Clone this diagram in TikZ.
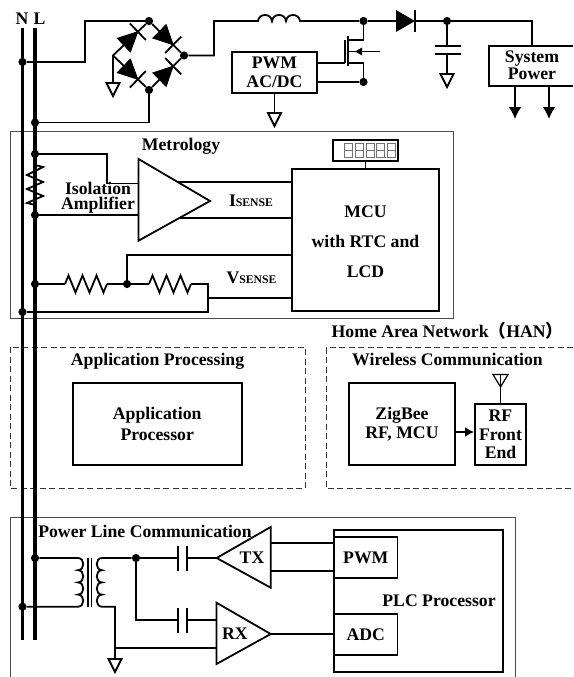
\documentclass[tikz,border=0pt]{standalone}
\usepackage{fontspec}
\setmainfont{Liberation Serif}
\newfontfamily\cjkfont{Noto Sans CJK SC}
\usetikzlibrary{arrows.meta,calc}
\newcommand{\gndtri}[1]{\draw[wire,fill=white,line join=miter] (#1) ++(-6.5,0) -- ++(13,0) -- ++(-6.5,13) -- cycle;}
\newcommand{\bridgediode}[2]{%
  \coordinate (dba) at ($(#1)!.30!(#2)$);
  \coordinate (dtip) at ($(#1)!.69!(#2)$);
  \draw[wire] (#1) -- (#2);
  \filldraw[line width=.8pt,line join=miter] ($(dba)!9.5pt!90:(dtip)$) -- ($(dba)!9.5pt!-90:(dtip)$) -- (dtip) -- cycle;
  \draw[wire] ($(dtip)!11.5pt!90:(dba)$) -- ($(dtip)!11.5pt!-90:(dba)$);
}
\newcommand{\zigh}[1]{\draw[wire,line join=miter] (#1) -- ++(3.5,-8.5) -- ++(7,17) -- ++(7,-17) -- ++(7,17) -- ++(7,-17) -- ++(7,17) -- ++(3.5,-8.5);}
\newcommand{\bftext}{\bfseries\fontsize{17.7}{19.5}\selectfont}
\newcommand{\sensetxt}[1]{#1{\fontsize{11.7}{12}\selectfont SENSE}}
\tikzset{
  x=1pt,y=-1pt,
  wire/.style={line width=1.8pt},
  power/.style={line width=3.6pt},
  outerbox/.style={line width=.9pt,draw=black!70},
  dashbox/.style={line width=1pt,draw=black!80,dash pattern=on 6pt off 3.5pt},
  box/.style={draw=black,line width=1.8pt,inner sep=0pt,align=center,font=\bftext},
  txt/.style={anchor=base,inner sep=0pt,font=\bftext},
  dot/.style={circle,fill=black,inner sep=0pt,minimum size=8.2pt},
  seg/.style={line width=.6pt,draw=black!55},
}
\begin{document}
\begin{tikzpicture}
\useasboundingbox (0,0) rectangle (573,677);
% -------- outer frames
\draw[outerbox] (10,131) rectangle (453,318);
\draw[dashbox] (10,347) rectangle (305,488.5);
\draw[dashbox] (573,347.5) -- (326,347.5) -- (326,488.5) -- (573,488.5);
\draw[outerbox] (10,677) -- (10,517) -- (515,517) -- (515,677);
% -------- named points
\node[dot] (dN1) at (22.5,62) {};
\node[dot] (dL1) at (35,122.5) {};
\node[dot] (brT) at (149,21) {};
\node[dot] (brR) at (184,55.5) {};
\node[dot] (brB) at (149,90) {};
\coordinate (brL) at (113,55.5);
\node[dot] (dSw) at (363.5,21) {};
\node[dot] (dCap) at (447,21) {};
\node[dot] (dSrc) at (363.5,82) {};
\node[dot] (dL2) at (35,154) {};
\node[dot] (dL3) at (35,215) {};
\node[dot] (dL4) at (35,284) {};
\node[dot] (dN2) at (22.5,312) {};
\node[dot] (dMid) at (127,284) {};
\node[dot] (dL5) at (35,558) {};
\node[dot] (dN3) at (22.5,606.7) {};
\node[dot] (dSec) at (136,558) {};
% -------- boxes
\node[box,minimum width=85pt,minimum height=41pt] (pwmac) at (274.5,72.5) {PWM\\[-1pt]AC/DC};
\node[box,minimum width=147pt,minimum height=142pt] (mcu) at (365.5,240) {\rule{0pt}{16pt}MCU\\[10.5pt]with RTC and\\[10.5pt]LCD};
\node[box,minimum width=65pt,minimum height=20.5pt] (lcd) at (365.5,150.5) {};
\node[box,minimum width=169pt,minimum height=82pt] (app) at (157.2,424) {Application\\[1.5pt]Processor};
\node[box,minimum width=106pt,minimum height=82pt] (zig) at (402,424) {ZigBee\\RF, MCU};
\node[box,minimum width=51pt,minimum height=61pt] (rf) at (500.5,434.5) {RF\\[-1pt]Front\\[-1pt]End};
\node[box,minimum width=168.5pt,minimum height=142pt] (plc) at (418.5,601) {};
\node[box,fill=white,minimum width=63.5pt,minimum height=41pt] (pwmtx) at (365.8,557.5) {PWM};
\node[box,fill=white,minimum width=63.5pt,minimum height=41pt] (adc) at (365.8,634.5) {ADC};
% system power: box runs off the right edge of the picture
\draw[wire] (573,45.7) -- (489.3,45.7) -- (489.3,86) -- (573,86);
\coordinate (sysT) at (532,45.7);
\coordinate (sysA) at (515,86);
\coordinate (sysB) at (549,86);
\node[txt,align=center,anchor=center,font=\bfseries\fontsize{17.7}{17}\selectfont] (systxt) at (532,65) {System\\Power};
% -------- rectifier input and bridge
\draw[wire] (dN1) -- (85,62) -- (85,21) -- (brT);
\draw[wire] (dL1) -- (149,122.5) -- (brB);
\bridgediode{brL}{brT}
\bridgediode{brT}{brR}
\bridgediode{brL}{brB}
\bridgediode{brB}{brR}
\draw[wire] (brL) -- (113,83);
\gndtri{113,83}
% -------- boost stage
\draw[wire] (brR) -- (214,55.5) -- (214,21) -- (258,21)
  .. controls +(1,-8) and +(-1,-8) .. ++(14,0)
  .. controls +(1,-8) and +(-1,-8) .. ++(14,0)
  .. controls +(1,-8) and +(-1,-8) .. ++(14,0) -- (dSw);
\coordinate (dioA) at (396,21);
\coordinate (dioK) at (415,21);
\draw[wire] (dSw) -- (dioA);
\fill (dioA) ++(0,-11) -- ++(19,11) -- ++(-19,11) -- cycle;
\draw[wire] (415,10) -- (415,32);
\draw[wire] (dioK) -- (dCap);
\draw[wire] (dCap) -- (532,21) -- (sysT);
% mosfet
\draw[wire] (dSw) -- (363.5,40) -- (348,40);
\draw[line width=2pt] (348,36) -- (348,66);
\draw[wire] (345,40) -- (345,63);
\draw[wire] (pwmac.east |- 0,63) -- (345,63);
\draw[wire] (348,63) -- (363.5,63) -- (dSrc);
\draw[wire] (pwmac.east |- dSrc) -- (dSrc);
\draw[wire] (348,51.5) -- (380,51.5);
\fill (355,51.5) -- (362,47.5) -- (362,55.5) -- cycle;
% pwm ground
\draw[wire] (pwmac.south) -- (274.5,113);
\gndtri{274.5,113}
% capacitor
\draw[wire] (dCap) -- (447,46);
\draw[wire] (435,46) -- (461,46);
\draw[wire] (435,54) -- (461,54);
\draw[wire] (447,54) -- (447,74);
\gndtri{447,74}
% system outputs
\draw[wire,-{Latex[length=12pt,width=13pt]}] (sysA) -- (515,119);
\draw[wire,-{Latex[length=12pt,width=13pt]}] (sysB) -- (549,119);
% -------- metrology
\coordinate (ampT) at (138.5,159);
\coordinate (ampB) at (138.5,240.7);
\coordinate (ampO) at (210,201);
\draw[wire] (dL2) -- (107,154) -- (107,183.5) -- (138.5,183.5);
\draw[wire] (dL3) -- (138.5,215);
\draw[wire,fill=white,line join=miter] (ampT) -- (ampO) -- (ampB) -- cycle;
\draw[wire] (177.7,182) -- (mcu.west |- 0,182);
\draw[wire] (179.4,218) -- (mcu.west |- 0,218);
\draw[wire,line join=miter] (35,165) -- (43,167) -- (27,175) -- (43,182) -- (27,189) -- (43,196) -- (27,203) -- (35,205);
\draw[wire] (dL4) -- (65,284);
\zigh{65,284}
\draw[wire] (107,284) -- (dMid);
\draw[wire] (dMid) -- (149,284);
\zigh{149,284}
\draw[wire] (191,284) -- (208,284) -- (208,312) -- (dN2);
\draw[wire] (dMid) -- (127,255) -- (mcu.west |- 0,255);
\draw[wire] (208,298) -- (mcu.west |- 0,298);
\draw[wire] (lcd.south) -- (mcu.north);
\foreach \dx in {344,355,366,376,387.3}{
  \draw[seg] (\dx,143) rectangle ++(8,7.4);
  \draw[seg] (\dx,150.4) rectangle ++(8,7.3);
}
\fill[black!55] (384.5,156.5) rectangle ++(1.6,1.6);
% -------- han
\draw[wire,-{Latex[length=9pt,width=10pt]}] (zig.east |- 0,432) -- (rf.west |- 0,432);
\draw[wire] (rf.north) -- (500.5,374);
\draw[line width=1.2pt,line join=miter] (493,374.5) -- (508,374.5) -- (500.5,387) -- cycle;
% -------- power line communication
\coordinate (capA1) at (178,558);
\coordinate (capA2) at (187,558);
\coordinate (capB1) at (178,620);
\coordinate (capB2) at (187,620);
\coordinate (txTip) at (216.7,558);
\coordinate (rxIn) at (216.5,620);
\draw[wire] (dL5) -- (78,558)
  .. controls +(7,0) and +(7,0) .. ++(0,12.2)
  .. controls +(7,0) and +(7,0) .. ++(0,12.2)
  .. controls +(7,0) and +(7,0) .. ++(0,12.2)
  .. controls +(7,0) and +(7,0) .. ++(0,12.1) -- (dN3);
\draw[line width=1.2pt] (88,557.7) -- (88,607);
\draw[line width=1.2pt] (91.5,557.7) -- (91.5,607);
\draw[wire] (dSec) -- (102,558)
  .. controls +(-7,0) and +(-7,0) .. ++(0,12.2)
  .. controls +(-7,0) and +(-7,0) .. ++(0,12.2)
  .. controls +(-7,0) and +(-7,0) .. ++(0,12.2)
  .. controls +(-7,0) and +(-7,0) .. ++(0,12.1) -- (115,606.7) -- (115,659);
\gndtri{115,659}
\draw[wire] (dSec) -- (capA1);
\draw[wire] (178,545.5) -- (178,571);
\draw[wire] (187,545.5) -- (187,571);
\draw[wire] (capA2) -- (txTip);
\draw[wire] (dSec) -- (136,620) -- (capB1);
\draw[wire] (178,607.7) -- (178,632.5);
\draw[wire] (187,607.7) -- (187,632.5);
\draw[wire] (capB2) -- (rxIn);
\draw[wire] (115,647.6) -- (216.5,647.6);
\draw[wire,line join=miter] (txTip) -- (270.7,527) -- (270.7,587.7) -- cycle;
\draw[wire,line join=miter] (216.5,602.7) -- (270.7,634) -- (216.5,664) -- cycle;
\draw[wire] (270.7,543.3) -- (plc.west |- 0,543.3);
\draw[wire] (270.7,571) -- (plc.west |- 0,571);
\draw[wire] (270.7,634) -- (plc.west |- 0,634);
% -------- mains conductors
\draw[power] (22.5,28) -- (22.5,640);
\draw[power] (35,28) -- (35,640);
% -------- texts
\node[txt] (tN) at (22,24.5) {N};
\node[txt] (tL) at (39.5,24.5) {L};
\node[txt] (tMet) at (181,150) {Metrology};
\node[txt,align=center,anchor=center,font=\bfseries\fontsize{17.7}{15.5}\selectfont] (tIso) at (98,197.5) {Isolation\\Amplifier};
\node[txt] (tIs) at (251,206) {\sensetxt{I}};
\node[txt] (tVs) at (251.5,283) {\sensetxt{V}};
\node[txt] (tHan) at (447.5,337.7) {Home Area Network{\cjkfont （}HAN{\cjkfont ）}};
\node[txt] (tApp) at (157.5,365) {Application Processing};
\node[txt] (tWir) at (447.5,365.7) {Wireless Communication};
\node[txt] (tPlc) at (145,537) {Power Line Communication};
\node[txt] (tTx) at (252,563) {TX};
\node[txt] (tRx) at (235,639) {RX};
\node[txt] (tProc) at (439,606) {PLC Processor};
\end{tikzpicture}
\end{document}
